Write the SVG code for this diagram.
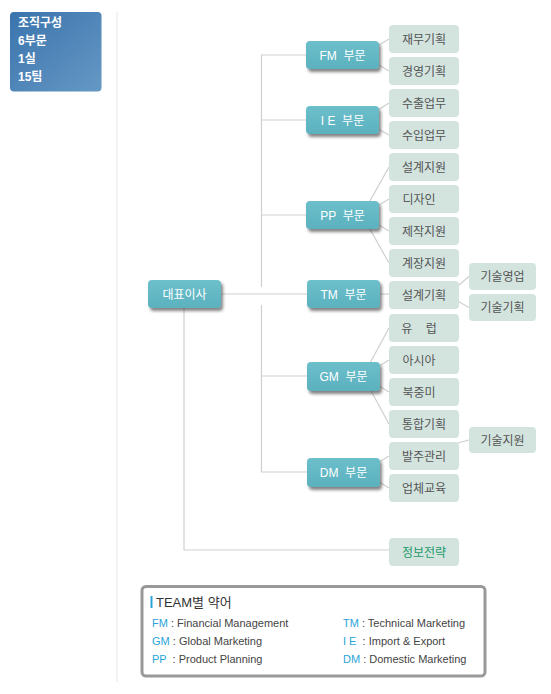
<svg xmlns="http://www.w3.org/2000/svg" width="551" height="694" viewBox="0 0 551 694" xml:space="preserve">
<defs>
<linearGradient id="blueg" x1="0" y1="0" x2="1" y2="1">
<stop offset="0" stop-color="#3a74ad"/><stop offset="1" stop-color="#6598c4"/>
</linearGradient>
<linearGradient id="tealg" x1="0" y1="0" x2="0" y2="1">
<stop offset="0" stop-color="#6cbfcb"/><stop offset="1" stop-color="#5cb1bf"/>
</linearGradient>
<filter id="sh" x="-20%" y="-30%" width="150%" height="180%">
<feDropShadow dx="2" dy="3" stdDeviation="1.6" flood-color="#222" flood-opacity="0.55"/>
</filter>
</defs>
<style>
text{white-space:pre}
.k{font-family:"Liberation Sans","Noto Sans CJK KR",sans-serif}
.node rect{fill:url(#tealg);filter:url(#sh)}
.node text{fill:#fff;font-size:12px;text-anchor:middle;font-family:"Liberation Sans","Noto Sans CJK KR",sans-serif}
.leaf rect{fill:#d3e4df}
.leaf text{fill:#555;font-size:12px;text-anchor:middle;font-family:"Liberation Sans","Noto Sans CJK KR",sans-serif}
.conn line,.conn polyline{stroke:#cfcfcf;stroke-width:1.2;fill:none}
.lg{font-family:"Liberation Sans","Noto Sans CJK KR",sans-serif;font-size:11px;fill:#444}
.ab{fill:#2aa3d9}
</style>
<rect width="551" height="694" fill="#fff"/>
<g id="summary">
<rect x="10" y="12" width="91.5" height="79.5" rx="4" fill="url(#blueg)"/>
<g class="k" fill="#fff" font-size="12" font-weight="bold">
<text x="18" y="26.5">조직구성</text>
<text x="18" y="45">6부문</text>
<text x="18" y="63">1실</text>
<text x="18" y="81">15팀</text>
</g>
</g>
<line x1="117" y1="12" x2="117" y2="682" stroke="#e6e6e6" stroke-width="1"/>
<g id="connectors" class="conn">
<line x1="261.5" y1="55" x2="261.5" y2="287"/>
<line x1="261.5" y1="305" x2="261.5" y2="472"/>
<line x1="261" y1="55" x2="306" y2="55"/>
<line x1="261" y1="120" x2="306" y2="120"/>
<line x1="261" y1="215" x2="306" y2="215"/>
<line x1="221" y1="294" x2="307" y2="294"/>
<line x1="261" y1="376" x2="307" y2="376"/>
<line x1="261" y1="472" x2="307" y2="472"/>
<polyline points="184,308 184,550 389,550"/>
<line x1="362" y1="55" x2="389" y2="39"/>
<line x1="362" y1="55" x2="389" y2="71"/>
<line x1="362" y1="120" x2="389" y2="103"/>
<line x1="362" y1="120" x2="389" y2="135"/>
<line x1="362" y1="215" x2="389" y2="167"/>
<line x1="362" y1="215" x2="389" y2="199"/>
<line x1="362" y1="215" x2="389" y2="231"/>
<line x1="362" y1="215" x2="389" y2="263"/>
<line x1="380" y1="294" x2="389" y2="294"/>
<line x1="363" y1="376" x2="389" y2="328"/>
<line x1="363" y1="376" x2="389" y2="360"/>
<line x1="363" y1="376" x2="389" y2="392"/>
<line x1="363" y1="376" x2="389" y2="424"/>
<line x1="363" y1="472" x2="389" y2="456"/>
<line x1="363" y1="472" x2="389" y2="488"/>
<line x1="447" y1="295" x2="469" y2="276.5"/>
<line x1="447" y1="295" x2="469" y2="307.5"/>
<line x1="440" y1="448" x2="469" y2="440"/>
</g>
<g id="ceo" class="node"><rect x="148" y="280" width="73" height="28" rx="4"/><text x="184.5" y="298.5">대표이사</text></g>
<g id="fm" class="node"><rect x="306" y="41" width="73" height="28" rx="4"/><text x="342.5" y="59.5">FM  부문</text></g>
<g id="ie" class="node"><rect x="306" y="106" width="73" height="28" rx="4"/><text x="342.5" y="124.5">I E  부문</text></g>
<g id="pp" class="node"><rect x="306" y="201" width="73" height="28" rx="4"/><text x="342.5" y="219.5">PP  부문</text></g>
<g id="tm" class="node"><rect x="307" y="280" width="73" height="28" rx="4"/><text x="343.5" y="298.5">TM  부문</text></g>
<g id="gm" class="node"><rect x="307" y="362" width="73" height="29" rx="4"/><text x="343.5" y="381">GM  부문</text></g>
<g id="dm" class="node"><rect x="307" y="458" width="73" height="29" rx="4"/><text x="343.5" y="477">DM  부문</text></g>
<g id="l1" class="leaf"><rect x="389" y="25" width="70" height="28" rx="4"/><text x="424" y="43.5">재무기획</text></g>
<g id="l2" class="leaf"><rect x="389" y="57" width="70" height="28" rx="4"/><text x="424" y="75.5">경영기획</text></g>
<g id="l3" class="leaf"><rect x="389" y="89" width="70" height="28" rx="4"/><text x="424" y="107.5">수출업무</text></g>
<g id="l4" class="leaf"><rect x="389" y="121" width="70" height="28" rx="4"/><text x="424" y="139.5">수입업무</text></g>
<g id="l5" class="leaf"><rect x="389" y="153" width="70" height="28" rx="4"/><text x="424" y="171.5">설계지원</text></g>
<g id="l6" class="leaf"><rect x="389" y="185" width="70" height="28" rx="4"/><text x="419" y="203.5">디자인</text></g>
<g id="l7" class="leaf"><rect x="389" y="217" width="70" height="28" rx="4"/><text x="424" y="235.5">제작지원</text></g>
<g id="l8" class="leaf"><rect x="389" y="249" width="70" height="28" rx="4"/><text x="424" y="267.5">계장지원</text></g>
<g id="l9" class="leaf"><rect x="389" y="281" width="70" height="28" rx="4"/><text x="424" y="299.5">설계기획</text></g>
<g id="l10" class="leaf"><rect x="389" y="314" width="70" height="28" rx="4"/><text x="419" y="332.5">유    럽</text></g>
<g id="l11" class="leaf"><rect x="389" y="346" width="70" height="28" rx="4"/><text x="419" y="364.5">아시아</text></g>
<g id="l12" class="leaf"><rect x="389" y="378" width="70" height="28" rx="4"/><text x="419" y="396.5">북중미</text></g>
<g id="l13" class="leaf"><rect x="389" y="410" width="70" height="28" rx="4"/><text x="424" y="428.5">통합기획</text></g>
<g id="l14" class="leaf"><rect x="389" y="442" width="70" height="28" rx="4"/><text x="424" y="460.5">발주관리</text></g>
<g id="l15" class="leaf"><rect x="389" y="474" width="70" height="28" rx="4"/><text x="424" y="492.5">업체교육</text></g>
<g id="l16" class="leaf"><rect x="389" y="538" width="70" height="28" rx="4"/><text x="424" y="556.5" style="fill:#1f9a6b">정보전략</text></g>
<g id="s1" class="leaf"><rect x="469" y="263" width="67" height="27" rx="4"/><text x="502.5" y="281">기술영업</text></g>
<g id="s2" class="leaf"><rect x="469" y="294" width="67" height="27" rx="4"/><text x="502.5" y="312">기술기획</text></g>
<g id="s3" class="leaf"><rect x="469" y="427" width="67" height="26" rx="4"/><text x="502.5" y="444.5">기술지원</text></g>
<g id="legend">
<rect x="142" y="586.5" width="343" height="89.5" rx="4" fill="#fff" stroke="#999" stroke-width="3"/>
<rect x="150.5" y="596" width="2" height="12" fill="#2aa3d9"/>
<text x="156" y="607" class="lg" style="font-size:13px;fill:#333">TEAM별 약어</text>
<text x="152" y="627" class="lg"><tspan class="ab">FM</tspan> : Financial Management</text>
<text x="152" y="645" class="lg"><tspan class="ab">GM</tspan> : Global Marketing</text>
<text x="152" y="663" class="lg"><tspan class="ab">PP</tspan>  : Product Planning</text>
<text x="343" y="627" class="lg"><tspan class="ab">TM</tspan> : Technical Marketing</text>
<text x="343" y="645" class="lg"><tspan class="ab">I E</tspan>  : Import &amp; Export</text>
<text x="343" y="663" class="lg"><tspan class="ab">DM</tspan> : Domestic Marketing</text>
</g>
</svg>
